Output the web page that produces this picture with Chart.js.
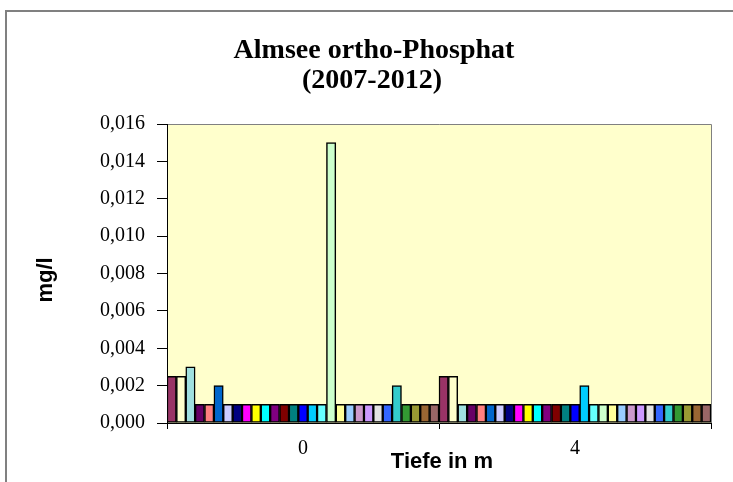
<!DOCTYPE html>
<html>
<head>
<meta charset="utf-8">
<script src="https://cdn.jsdelivr.net/npm/chart.js@4.4.1/dist/chart.umd.min.js"></script>
<style>
    html, body { margin: 0; padding: 0; background: #ffffff; }
    #wrap { width: 733px; height: 482px; }
</style>
</head>
<body>
<div id="wrap"><canvas id="chart" width="733" height="482"></canvas></div>
<script>
// Daten
const categories = ['0', '4'];
const titleLines = ['Almsee ortho-Phosphat', '(2007-2012)'];
const yTitle = 'mg/l';
const xTitle = 'Tiefe in m';
const yMin = 0;
const yMax = 0.016;
const yStep = 0.002;

// Werte je Serie: [0 m, 4 m]
const values0 = [0.0025, 0.0025, 0.003, 0.001, 0.001, 0.002, 0.001, 0.001, 0.001, 0.001,
                 0.001, 0.001, 0.001, 0.001, 0.001, 0.001, 0.001, 0.015, 0.001, 0.001,
                 0.001, 0.001, 0.001, 0.001, 0.002, 0.001, 0.001, 0.001, 0.001];
const values4 = [0.0025, 0.0025, 0.001, 0.001, 0.001, 0.001, 0.001, 0.001, 0.001, 0.001,
                 0.001, 0.001, 0.001, 0.001, 0.001, 0.002, 0.001, 0.001, 0.001, 0.001,
                 0.001, 0.001, 0.001, 0.001, 0.001, 0.001, 0.001, 0.001, 0.001];

const seriesColors = ['#993366', '#FFFFCC', '#A0E0E0', '#660066', '#FF8080', '#0066CC',
                      '#CCCCFF', '#000080', '#FF00FF', '#FFFF00', '#00FFFF', '#800080',
                      '#800000', '#008080', '#0000FF', '#00CCFF', '#66FFFF', '#CCFFCC',
                      '#FFFF99', '#99CCFF', '#CC99CC', '#CC99FF', '#E3E3E3', '#3366FF',
                      '#33CCCC', '#339933', '#999933', '#996633', '#996666'];

// Rahmen, Hintergrund und Texte
const decorPlugin = {
    id: 'decor',
    beforeDraw(chart) {
        const ctx = chart.ctx;
        const a = chart.chartArea;
        ctx.save();
        ctx.fillStyle = '#ffffff';
        ctx.fillRect(0, 0, chart.width, chart.height);
        ctx.strokeStyle = '#808080';
        ctx.lineWidth = 2;
        ctx.strokeRect(6, 11, 900, 700);
        ctx.fillStyle = '#FFFFCC';
        ctx.fillRect(a.left, a.top, a.right - a.left, a.bottom - a.top);
        ctx.strokeStyle = '#808080';
        ctx.lineWidth = 1;
        ctx.beginPath();
        ctx.moveTo(a.left, a.top + 0.5);
        ctx.lineTo(a.right + 0.5, a.top + 0.5);
        ctx.lineTo(a.right + 0.5, a.bottom);
        ctx.stroke();
        ctx.restore();
    },
    afterDraw(chart) {
        const ctx = chart.ctx;
        ctx.save();
        ctx.fillStyle = '#000000';
        ctx.textAlign = 'center';
        ctx.textBaseline = 'alphabetic';
        ctx.font = 'bold 28px "Liberation Serif", "Times New Roman", serif';
        ctx.fillText(titleLines[0], 374, 58);
        ctx.fillText(titleLines[1], 372, 88);

        ctx.font = 'bold 22px "Liberation Sans", Arial, sans-serif';
        ctx.fillText(xTitle, 442, 468);

        ctx.translate(46, 280);
        ctx.rotate(-Math.PI / 2);
        ctx.textBaseline = 'middle';
        ctx.fillText(yTitle, 0, 0);
        ctx.restore();
    }
};

const datasets = seriesColors.map((color, i) => ({
    label: 'Serie ' + (i + 1),
    data: [values0[i], values4[i]],
    backgroundColor: color,
    borderColor: '#000000',
    borderWidth: 1.5,
    borderSkipped: false,
    categoryPercentage: 1.0,
    barPercentage: 1.0
}));

new Chart(document.getElementById('chart'), {
    type: 'bar',
    data: {
        labels: categories,
        datasets: datasets
    },
    options: {
        responsive: false,
        animation: false,
        layout: {
            padding: { left: 0, top: 124, right: 22, bottom: 0 }
        },
        plugins: {
            legend: { display: false },
            title: { display: false },
            tooltip: { enabled: false }
        },
        scales: {
            x: {
                offset: true,
                afterFit(scale) { scale.height = 59; },
                grid: {
                    offset: true,
                    drawOnChartArea: false,
                    drawTicks: true,
                    tickLength: 6,
                    tickColor: '#000000'
                },
                border: { display: true, color: '#000000', width: 1 },
                ticks: {
                    color: '#000000',
                    padding: 8,
                    font: { family: '"Liberation Serif", "Times New Roman", serif', size: 20 }
                }
            },
            y: {
                min: yMin,
                max: yMax,
                afterFit(scale) { scale.width = 167; },
                grid: {
                    drawOnChartArea: false,
                    drawTicks: true,
                    tickLength: 10,
                    tickColor: '#000000'
                },
                border: { display: true, color: '#000000', width: 1 },
                ticks: {
                    stepSize: yStep,
                    color: '#000000',
                    padding: 12,
                    font: { family: '"Liberation Serif", "Times New Roman", serif', size: 20 },
                    callback: function(value) {
                        return value.toFixed(3).replace('.', ',');
                    }
                }
            }
        }
    },
    plugins: [decorPlugin]
});
</script>
</body>
</html>
